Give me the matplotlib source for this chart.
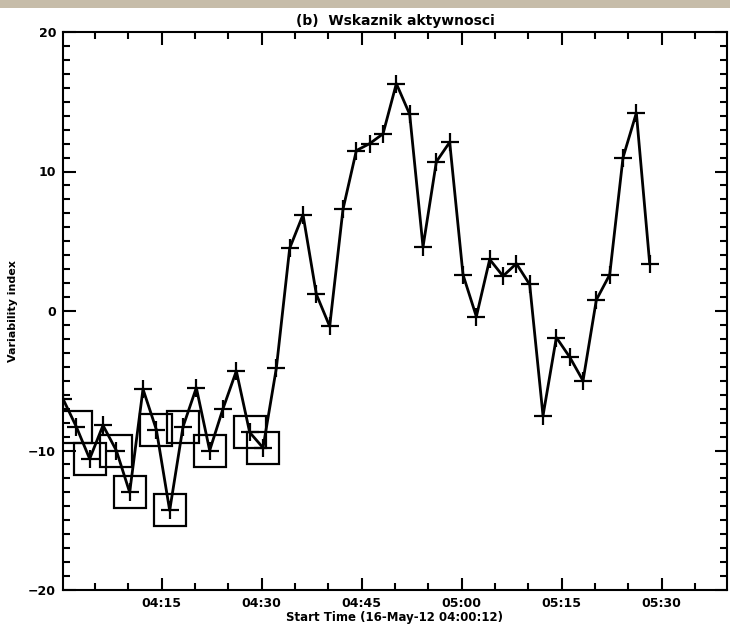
import matplotlib
matplotlib.use("Agg")
import matplotlib.pyplot as plt
from matplotlib.patches import Rectangle

# ---- data ----
times = ["04:00:12", "04:02:12", "04:04:12", "04:06:12", "04:08:12", "04:10:12",
         "04:12:12", "04:14:12", "04:16:12", "04:18:12", "04:20:12", "04:22:12",
         "04:24:12", "04:26:12", "04:28:12", "04:30:12", "04:32:12", "04:34:12",
         "04:36:12", "04:38:12", "04:40:12", "04:42:12", "04:44:12", "04:46:12",
         "04:48:12", "04:50:12", "04:52:12", "04:54:12", "04:56:12", "04:58:12",
         "05:00:12", "05:02:12", "05:04:12", "05:06:12", "05:08:12", "05:10:12",
         "05:12:12", "05:14:12", "05:16:12", "05:18:12", "05:20:12", "05:22:12",
         "05:24:12", "05:26:12", "05:28:12"]
values = [-6.3, -8.3, -10.6, -8.2, -10.0, -13.0, -5.6, -8.5, -14.3, -8.3,
          -5.5, -10.0, -7.0, -4.3, -8.7, -9.8, -4.1, 4.5, 6.9, 1.2,
          -1.1, 7.3, 11.5, 12.0, 12.7, 16.3, 14.1, 4.6, 10.7, 12.1,
          2.6, -0.4, 3.7, 2.5, 3.4, 1.9, -7.5, -1.9, -3.3, -5.0,
          0.8, 2.6, 11.0, 14.2, 3.4]
boxed = [1, 2, 4, 5, 7, 8, 9, 11, 14, 15]

major_ticks = ["04:15", "04:30", "04:45", "05:00", "05:15", "05:30"]
title = "(b)  Wskaznik aktywnosci"
xlabel = "Start Time (16-May-12 04:00:12)"
ylabel = "Variability index"


def to_min(s):
    p = [int(v) for v in s.split(":")]
    sec = (p[0] - 4) * 3600 + p[1] * 60 + (p[2] if len(p) > 2 else 0)
    return sec / 60.0


x = [to_min(t) for t in times]

plt.rcParams['font.family'] = ['DejaVu Sans']
fig = plt.figure(figsize=(7.30, 6.33), dpi=100)
fig.patch.set_facecolor("white")
fig.patches.append(Rectangle((0, 1 - 8 / 633), 1, 8 / 633, transform=fig.transFigure,
                             facecolor="#c6bca9", edgecolor="none", zorder=0))

L, R, T, B = 63, 727, 32, 590
ax = fig.add_axes([L / 730, 1 - B / 633, (R - L) / 730, (B - T) / 633])

ax.plot(x, values, color="black", lw=2.0, marker="+", ms=12.5, mew=1.6, zorder=3)
ax.plot([x[i] for i in boxed], [values[i] for i in boxed], ls="none", marker="s",
        ms=23, mfc="none", mec="black", mew=1.6, zorder=4)

x0 = to_min("04:00:12")
ax.set_xlim(x0, x0 + (R - L) / 6.667)
ax.set_ylim(-20, 20)

ax.set_xticks([to_min(t) for t in major_ticks])
ax.set_xticklabels(major_ticks)
ax.set_xticks([m for m in range(5, 100, 5)], minor=True)
ax.set_yticks([-20, -10, 0, 10, 20])
ax.set_yticks([v for v in range(-20, 21)], minor=True)

for sp in ax.spines.values():
    sp.set_linewidth(1.5)
ax.tick_params(which="both", direction="in", top=True, right=True, width=1.5,
               labelsize=9, pad=5)
ax.tick_params(which="major", length=9)
ax.tick_params(which="minor", length=5)
for lab in ax.get_xticklabels() + ax.get_yticklabels():
    lab.set_fontweight("bold")

ax.set_title(title, fontsize=10, fontweight="bold", pad=5)
ax.set_xlabel(xlabel, fontsize=8.5, fontweight="bold", labelpad=1)
ax.set_ylabel(ylabel, fontsize=8, fontweight="bold")
ax.yaxis.set_label_coords(-(L - 18) / (R - L), 0.5)

fig.savefig("out.png", dpi=100)
